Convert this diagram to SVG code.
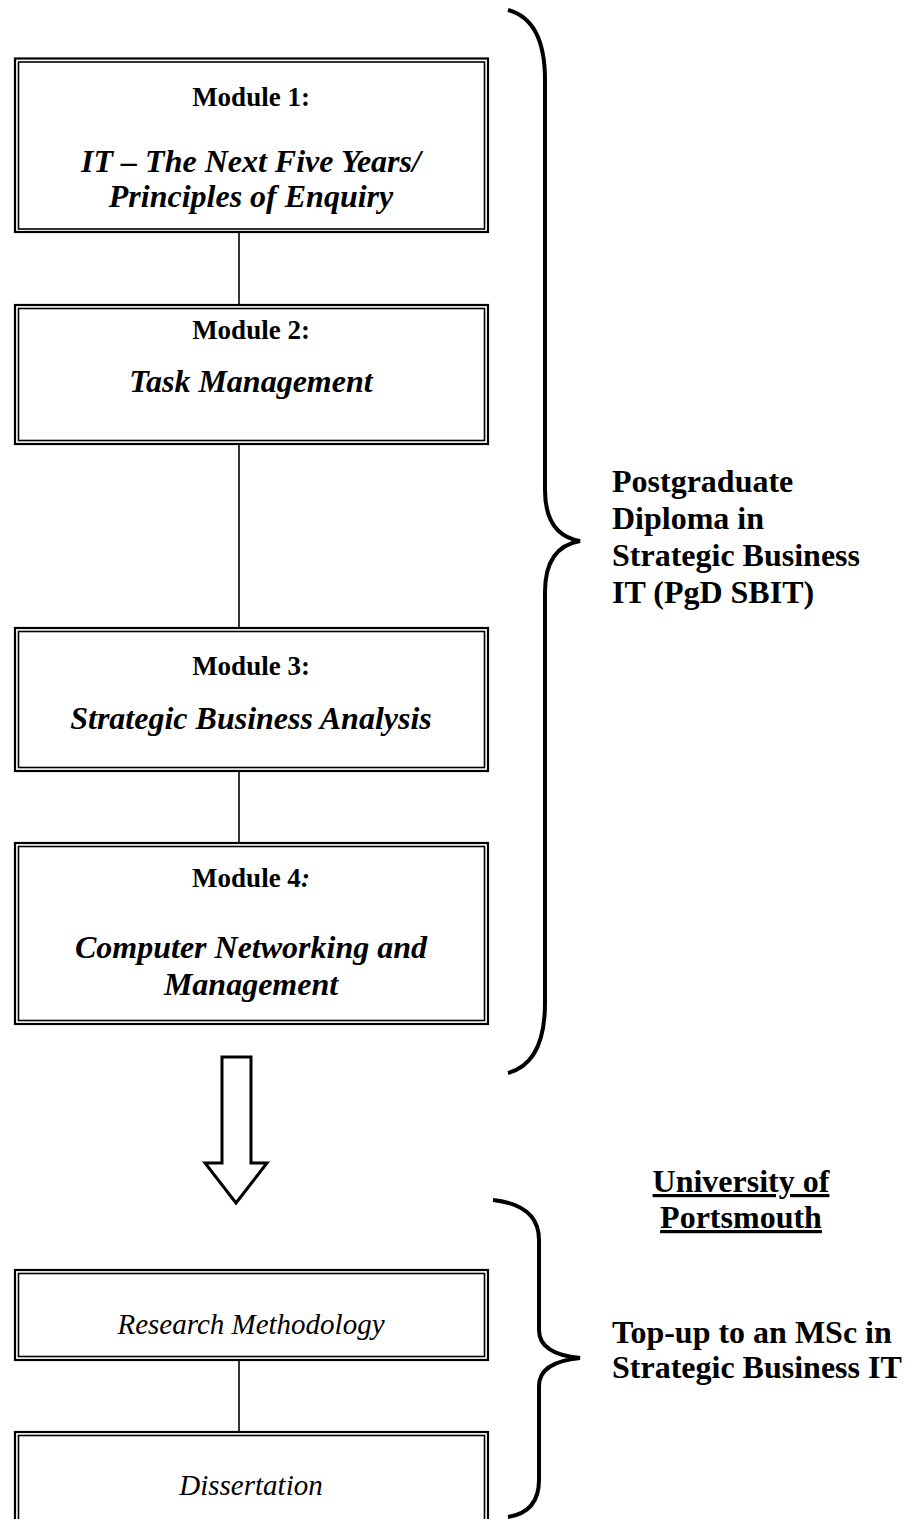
<svg xmlns="http://www.w3.org/2000/svg" width="917" height="1519" viewBox="0 0 917 1519">
<style>
.o{fill:none;stroke:#000;stroke-width:2.2}
.i{fill:none;stroke:#000;stroke-width:1.6}
.t{font-family:"Liberation Serif","Times New Roman",serif;fill:#000;text-anchor:middle}
.h{font-weight:bold;font-size:27px}
.bi{font-weight:bold;font-style:italic;font-size:32px}
.it{font-style:italic;font-size:29px}
.lab{font-family:"Liberation Serif","Times New Roman",serif;font-weight:bold;font-size:32px;fill:#000}
.br{fill:none;stroke:#000;stroke-width:4;stroke-linecap:butt}
.c{stroke:#000;stroke-width:1.6}
</style>
<rect width="917" height="1519" fill="#fff"/>
<g id="connectors">
<line class="c" x1="239" y1="233" x2="239" y2="304"/>
<line class="c" x1="239" y1="445" x2="239" y2="627"/>
<line class="c" x1="239" y1="772" x2="239" y2="842"/>
<line class="c" x1="239" y1="1361" x2="239" y2="1431"/>
</g>
<g id="module1">
<rect class="o" x="15" y="58.5" width="473" height="173.5"/>
<rect class="i" x="18.5" y="62" width="466" height="167"/>
<text class="t h" x="251" y="106">Module 1:</text>
<text class="t bi" x="251" y="172">IT – The Next Five Years/</text>
<text class="t bi" x="251" y="207">Principles of Enquiry</text>
</g>
<g id="module2">
<rect class="o" x="15" y="305" width="473" height="139"/>
<rect class="i" x="18.5" y="308.5" width="466" height="132"/>
<text class="t h" x="251" y="339">Module 2:</text>
<text class="t bi" x="251" y="392">Task Management</text>
</g>
<g id="module3">
<rect class="o" x="15" y="628" width="473" height="143"/>
<rect class="i" x="18.5" y="631.5" width="466" height="136"/>
<text class="t h" x="251" y="675">Module 3:</text>
<text class="t bi" x="251" y="729">Strategic Business Analysis</text>
</g>
<g id="module4">
<rect class="o" x="15" y="843" width="473" height="181"/>
<rect class="i" x="18.5" y="846.5" width="466" height="174"/>
<text class="t h" x="251" y="887">Module 4<tspan font-style="italic">:</tspan></text>
<text class="t bi" x="251" y="958">Computer Networking and</text>
<text class="t bi" x="251" y="995">Management</text>
</g>
<g id="research">
<rect class="o" x="15" y="1270" width="473" height="90"/>
<rect class="i" x="18.5" y="1273.5" width="466" height="83"/>
<text class="t it" x="251" y="1334">Research Methodology</text>
</g>
<g id="dissertation">
<rect class="o" x="15" y="1432" width="473" height="100"/>
<rect class="i" x="18.5" y="1435.5" width="466" height="100"/>
<text class="t it" x="251" y="1495">Dissertation</text>
</g>
<g id="arrow">
<path d="M222,1057 H251 V1163 H267 L236,1203 L205,1163 H222 Z" fill="#fff" stroke="#000" stroke-width="3" stroke-linejoin="miter"/>
</g>
<g id="brace1">
<path class="br" d="M508,10 Q545,20 545,80 V490 Q545,535 580,541 Q545,547 545,592 V1003 Q545,1063 508,1073"/>
</g>
<g id="brace2">
<path class="br" d="M493,1200 Q539,1205 539,1240 V1330 Q539,1354 580,1358 Q539,1362 539,1386 V1480 Q539,1512 508,1517"/>
</g>
<g id="label-pgd">
<text class="lab" x="612" y="492">Postgraduate</text>
<text class="lab" x="612" y="529">Diploma in</text>
<text class="lab" x="612" y="566">Strategic Business</text>
<text class="lab" x="612" y="603">IT (PgD SBIT)</text>
</g>
<g id="label-uop">
<text class="lab" x="741" y="1192" text-anchor="middle" text-decoration="underline">University of</text>
<text class="lab" x="741" y="1228" text-anchor="middle" text-decoration="underline">Portsmouth</text>
</g>
<g id="label-msc">
<text class="lab" x="612" y="1343">Top-up to an MSc in</text>
<text class="lab" x="612" y="1378">Strategic Business IT</text>
</g>
</svg>
